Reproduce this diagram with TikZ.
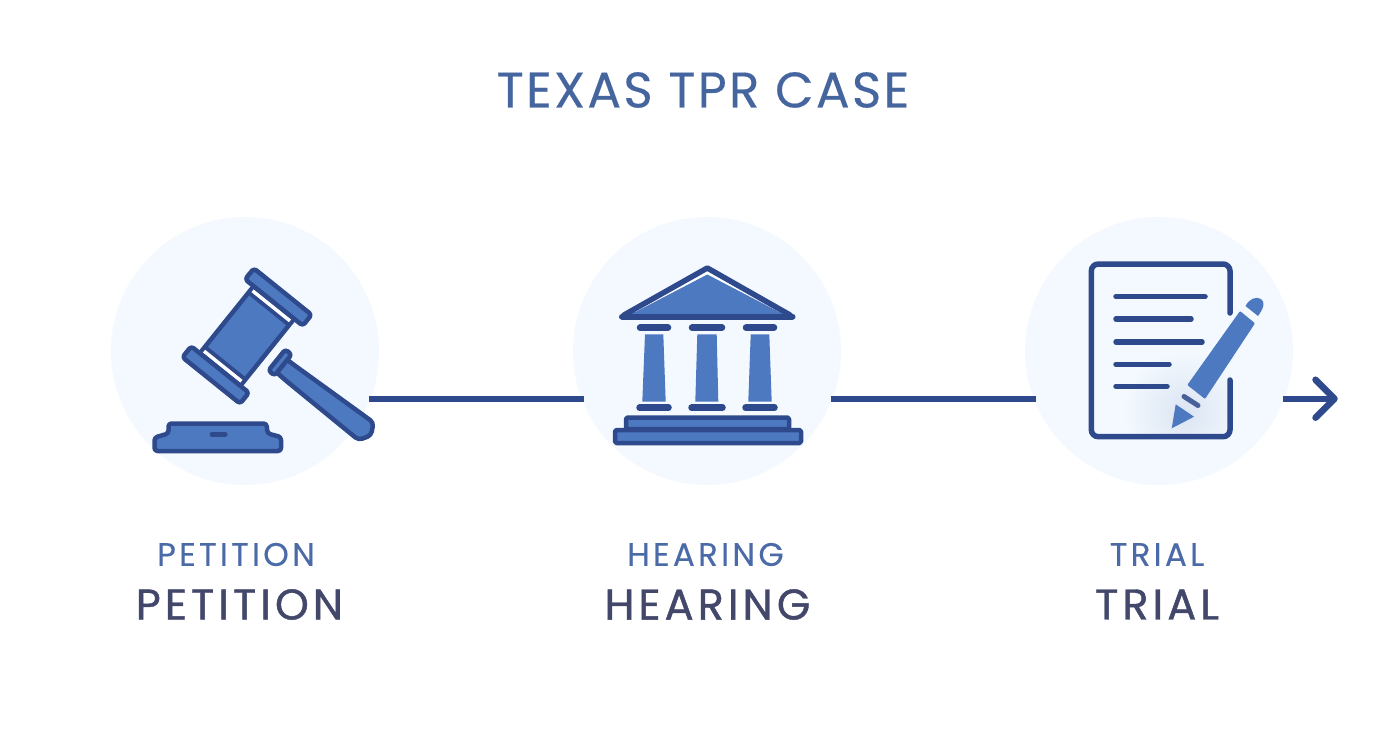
\documentclass[tikz,border=0pt]{standalone}
\usepackage{fontspec}
\setmainfont{Poppins}
\usetikzlibrary{calc}
\definecolor{ink}{HTML}{2F4A8C}
\definecolor{fillb}{HTML}{4D79C1}
\definecolor{disc}{HTML}{F3F9FE}
\definecolor{titleb}{HTML}{45659F}
\definecolor{smallb}{HTML}{4A6AA8}
\definecolor{bigt}{HTML}{43486B}
\tikzset{
  disc/.style={circle,fill=disc,draw=none,minimum size=268pt,inner sep=0pt},
  conn/.style={draw=ink,line width=6pt},
  part/.style={draw=ink,fill=fillb,line width=4.5pt,line join=round,rounded corners=3pt},
  sep/.style={fill=white,draw=none},
  plain/.style={fill=fillb,draw=none},
  titletext/.style={text=titleb,font=\fontsize{50}{54}\selectfont\addfontfeature{LetterSpace=4.6,FakeBold=0.3}},
  smalltext/.style={text=smallb,font=\fontsize{32.5}{36}\selectfont\addfontfeature{LetterSpace=10,FakeBold=0.3}},
  bigtext/.style={text=bigt,font=\fontsize{43}{48}\selectfont\addfontfeature{LetterSpace=9.5,FakeBold=1}}
}
\begin{document}
\begin{tikzpicture}[x=1pt,y=-1pt]
\useasboundingbox (0,0) rectangle (1392,752);
\fill[white] (0,0) rectangle (1392,752);
\node[disc] (c1) at (245,351) {};
\node[disc] (c2) at (707,351) {};
\node[disc] (c3) at (1159,351) {};
\coordinate (c1r) at ($(c1.center)+(123.5,47.7)$);
\coordinate (c2l) at ($(c2.center)+(-123.5,47.7)$);
\coordinate (c2r) at ($(c2.center)+(123.5,47.7)$);
\coordinate (c3l) at ($(c3.center)+(-123.5,47.7)$);
\coordinate (c3r) at ($(c3.center)+(123.5,47.7)$);
\coordinate (arrowend) at (1334.5,398.7);
% connectors
\draw[conn] (c1r) -- (c2l);
\draw[conn] (c2r) -- (c3l);
\draw[conn] (c3r) -- (arrowend);
\draw[ink,line width=6.5pt,line cap=round,line join=round] ($(arrowend)+(-19,-19)$) -- (arrowend) -- ($(arrowend)+(-19,19)$);
% gavel head, in its own tilted frame
\begin{scope}[shift={(247,336)},rotate=-38.8]
  \path[part] (-26,-43) rectangle (26,43);
  \draw[ink,line width=4pt] (-26,-35) -- (26,-35);
  \draw[ink,line width=4pt] (-26,35) -- (26,35);
  \path[sep] (-24,-40.5) rectangle (24,-37);
  \path[sep] (-24,37) rectangle (24,40.5);
  \path[part] (-37,-57) rectangle (37,-43);
  \path[part] (-37,43) rectangle (37,57);
\end{scope}
% gavel handle
\path[part,rounded corners=4pt] (285,358) -- (292,363.5) -- (373.5,422.5) -- (371,435.5) -- (358.5,440) -- (287,381.5) -- (276,372) -- cycle;
\begin{scope}[shift={(280,362.5)},rotate=-38.8]
  \path[part,rounded corners=3pt] (-4,-13.5) rectangle (4,13.5);
\end{scope}
% sound block
\path[part] (168.5,423.5) -- (266.5,423.5) -- (267.5,433.5) -- (281,437) -- (281,451) -- (154.5,451) -- (154.5,437.5) -- (168.5,433.5) -- cycle;
\draw[ink,line width=5pt,line cap=round] (212,434.3) -- (225,434.3);
% temple
\path[draw=ink,fill=white,line width=5.5pt,line join=round] (707.3,268) -- (790,315) -- (624,315) -- cycle;
\path[plain] (707.3,274.5) -- (783,314) -- (631.5,314) -- cycle;
\draw[ink,line width=6pt,line cap=round] (622,316.5) -- (792.5,316.5);
\foreach \a/\b/\c/\d/\e/\f in {640/668/645/663.3/642.3/665.7,692/722/697.3/716.7/695.3/718.3,746/774/750.7/769.3/748.3/771.7}{
  \draw[ink,line width=6.5pt,line cap=round] (\a,327.7) -- (\b,327.7);
  \path[plain] (\c,334.3) -- (\d,334.3) -- (\f,401.7) -- (\e,401.7) -- cycle;
  \draw[ink,line width=6.5pt,line cap=round] (\a-.5,407.7) -- (\b+.5,407.7);
}
\path[part,rounded corners=1.5pt] (626,417.5) rectangle (789,429);
\path[part,rounded corners=1.5pt] (615,430) rectangle (801,443);
% document
\begin{scope}
  \clip (1091.3,264) rectangle (1230,436.7);
  \shade[inner color=fillb!20,outer color=disc,draw=none] (1185,412) circle (62pt);
\end{scope}
\draw[ink,line width=5.5pt,rounded corners=7pt,line cap=round] (1230,313) -- (1230,264) -- (1091.3,264) -- (1091.3,436.7) -- (1230,436.7) -- (1230,380);
\foreach \yy/\xx in {296.7/1205,319/1191,342/1202,364.3/1169,386.3/1167}{
  \draw[ink,line width=5.5pt,line cap=round] (1116,\yy) -- (\xx,\yy);
}
% pen
\path[plain,rounded corners=1pt] (1240,311) -- (1255,323.3) -- (1205,399) -- (1187.3,385) -- cycle;
\path[plain] (1245.5,306) .. controls (1249,299) and (1256,296) .. (1261,299) .. controls (1265,302) and (1264.5,307) .. (1258,316) -- cycle;
\draw[ink,line width=5pt,line cap=round,opacity=.85] (1184,396.5) -- (1198,405.5);
\path[plain] (1175.7,404.3) -- (1194,416.7) -- (1171.7,428.3) -- cycle;
% labels
\node[titletext] (title) at (703,90) {TEXAS TPR CASE};
\node[smalltext] (l1) at (236,554.5) {PETITION};
\node[bigtext] (b1) at (239.5,604.5) {PETITION};
\node[smalltext] (l2) at (705.5,554.5) {HEARING};
\node[bigtext] (b2) at (707.5,604.5) {HEARING};
\node[smalltext] (l3) at (1157,554.5) {TRIAL};
\node[bigtext] (b3) at (1157,604.5) {TRIAL};
\end{tikzpicture}
\end{document}
